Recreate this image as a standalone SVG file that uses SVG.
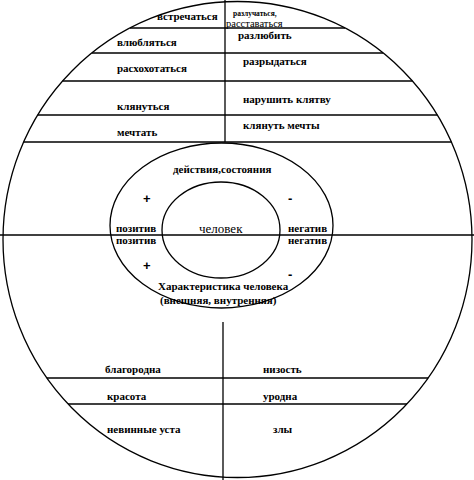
<svg xmlns="http://www.w3.org/2000/svg" width="474" height="480" viewBox="0 0 474 480">
<style>
.ln{stroke:#000;stroke-width:1.3;fill:none}
.b{font-family:"Liberation Serif","Times New Roman",serif;font-weight:bold;font-size:11px;fill:#000}
.r{font-family:"Liberation Serif","Times New Roman",serif;font-size:13px;fill:#000}
.s{font-family:"Liberation Serif","Times New Roman",serif;font-weight:bold;font-size:7.5px;fill:#000}
.m{font-family:"Liberation Serif","Times New Roman",serif;font-size:10.5px;fill:#000}
.p{font-family:"Liberation Sans",Arial,sans-serif;font-weight:bold;font-size:13px;fill:#000}
</style>
<rect width="474" height="480" fill="#fff"/>
<g id="connectors">
<line class="ln" x1="0" y1="235" x2="474" y2="235"/>
<line class="ln" x1="225" y1="0" x2="225" y2="142"/>
<line class="ln" x1="223" y1="322" x2="223" y2="480"/>
<line class="ln" x1="130" y1="28" x2="345" y2="28"/>
<line class="ln" x1="92" y1="53" x2="383" y2="53"/>
<line class="ln" x1="62.5" y1="81" x2="412.5" y2="81"/>
<line class="ln" x1="37.6" y1="115" x2="437.4" y2="115"/>
<line class="ln" x1="23.6" y1="142" x2="451.4" y2="142"/>
<line class="ln" x1="46.8" y1="378" x2="428.2" y2="378"/>
<line class="ln" x1="68" y1="404" x2="407" y2="404"/>
</g>
<g id="outer">
<ellipse class="ln" cx="237.5" cy="239.5" rx="234.5" ry="238"/>
</g>
<g id="middle">
<ellipse class="ln" cx="221.5" cy="225.5" rx="111.5" ry="82.5"/>
</g>
<g id="inner">
<ellipse class="ln" cx="221" cy="230" rx="59" ry="48"/>
<text class="r" x="199" y="233">человек</text>
</g>
<g id="top-labels">
<text class="b" x="157" y="20">встречаться</text>
<text class="s" x="233" y="16">разлучаться,</text>
<text class="m" x="226" y="27">расставаться</text>
<text class="b" x="117" y="46">влюбляться</text>
<text class="b" x="238" y="39">разлюбить</text>
<text class="b" x="117" y="72">расхохотаться</text>
<text class="b" x="243" y="65">разрыдаться</text>
<text class="b" x="117" y="110">клянуться</text>
<text class="b" x="243" y="103">нарушить клятву</text>
<text class="b" x="117" y="136">мечтать</text>
<text class="b" x="243" y="129">клянуть мечты</text>
</g>
<g id="middle-labels">
<text class="b" x="173" y="173">действия,состояния</text>
<text class="p" x="143" y="203">+</text>
<text class="p" x="288" y="203">-</text>
<text class="b" x="116" y="232">позитив</text>
<text class="b" x="116" y="244">позитив</text>
<text class="b" x="288" y="232">негатив</text>
<text class="b" x="288" y="244">негатив</text>
<text class="p" x="143" y="270">+</text>
<text class="p" x="288" y="279">-</text>
<text class="b" x="158" y="290">Характеристика человека</text>
<text class="b" x="160" y="304">(внешняя, внутренняя)</text>
</g>
<g id="bottom-labels">
<text class="b" x="105" y="373">благородна</text>
<text class="b" x="263" y="373">низость</text>
<text class="b" x="107" y="400">красота</text>
<text class="b" x="263" y="400">уродна</text>
<text class="b" x="107" y="433">невинные уста</text>
<text class="b" x="273" y="433">злы</text>
</g>
</svg>
